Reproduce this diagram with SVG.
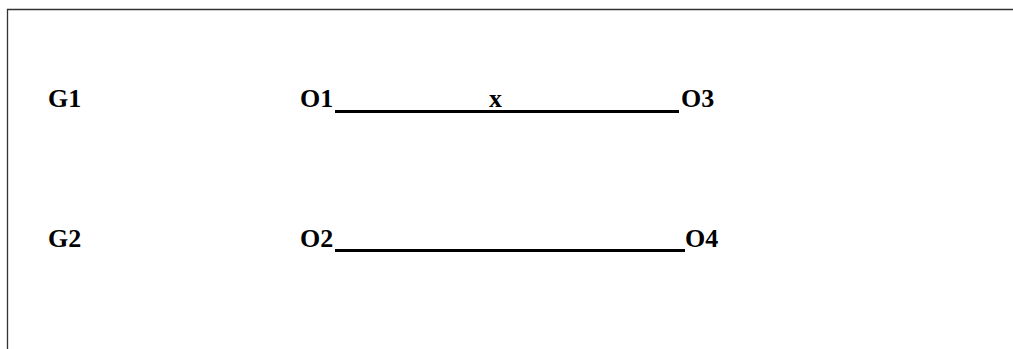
<svg xmlns="http://www.w3.org/2000/svg" width="1013" height="349" viewBox="0 0 1013 349">
<style>
.t{font-family:"Liberation Serif","Times New Roman",serif;font-weight:bold;font-size:26px;fill:#000}
.ln{stroke:#000;stroke-width:3;fill:none}
.bd{stroke:#333;stroke-width:1.3;fill:none}
</style>
<rect width="1013" height="349" fill="#fff"/>
<path class="bd" d="M7.5,349 V9.5 H1013"/>
<g id="G1"><text class="t" x="48" y="107">G1</text></g>
<g id="G2"><text class="t" x="48" y="247">G2</text></g>
<g id="O1"><text class="t" x="300" y="107">O1</text></g>
<g id="O3"><text class="t" x="681" y="107">O3</text></g>
<g id="O2"><text class="t" x="300" y="247">O2</text></g>
<g id="O4"><text class="t" x="685" y="247">O4</text></g>
<g id="connectors">
<line class="ln" x1="335" y1="111.5" x2="679" y2="111.5"/>
<text class="t" x="489" y="107">x</text>
<line class="ln" x1="335" y1="250.5" x2="685" y2="250.5"/>
</g>
</svg>
